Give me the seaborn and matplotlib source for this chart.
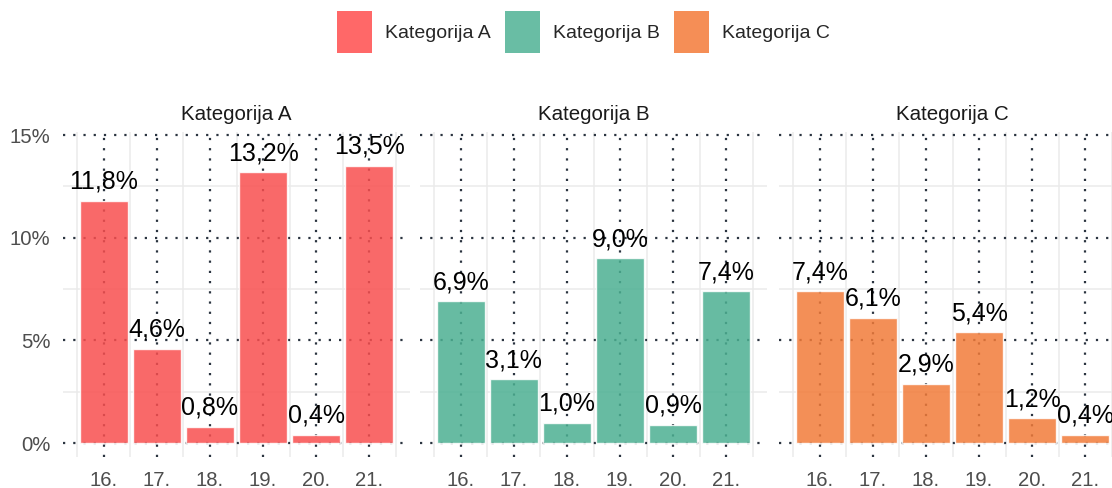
import matplotlib
matplotlib.use('Agg')
import matplotlib.pyplot as plt
from matplotlib.patches import Patch
from matplotlib.ticker import MultipleLocator, FixedLocator
import seaborn as sns
import pandas as pd

# podaci
days = ["16.", "17.", "18.", "19.", "20.", "21."]
cat_names = ["Kategorija A", "Kategorija B", "Kategorija C"]
vals_a = [11.8, 4.6, 0.8, 13.2, 0.4, 13.5]
vals_b = [6.9, 3.1, 1.0, 9.0, 0.9, 7.4]
vals_c = [7.4, 6.1, 2.9, 5.4, 1.2, 0.4]
colors = ["#F94F4F", "#4CB092", "#F27B39"]
legend_colors = ["#FF6868", "#69BDA4", "#F58E56"]

df = pd.DataFrame({
    "day": days * 3,
    "cat": [c for c in cat_names for _ in days],
    "value": vals_a + vals_b + vals_c,
})

sns.set_style("white")
plt.rcParams['font.family'] = ['Liberation Sans', 'DejaVu Sans']

W, H = 1112, 488
fig = plt.figure(figsize=(W / 100, H / 100), dpi=100)

lefts = [63, 420, 779]
pw = 347
top, bottom = 132, 457
grid_dark = "#2B3440"

for i, (cat, col) in enumerate(zip(cat_names, colors)):
    ax = fig.add_axes([lefts[i] / W, (H - bottom) / H, pw / W, (bottom - top) / H])
    sub = df[df["cat"] == cat]
    sns.barplot(data=sub, x="day", y="value", color=col, width=0.9,
                alpha=0.85, saturation=1, ax=ax, zorder=2)
    ax.set_xlim(-0.77, 5.77)
    ax.set_ylim(-0.68, 15.15)
    ax.set_axisbelow(True)
    ax.yaxis.set_major_locator(MultipleLocator(5))
    ax.yaxis.set_minor_locator(FixedLocator([2.5, 7.5, 12.5]))
    ax.xaxis.set_minor_locator(FixedLocator([-0.5, 0.5, 1.5, 2.5, 3.5, 4.5, 5.5]))
    ax.grid(which="minor", color="#EBEBEB", lw=1.1, ls="-", zorder=0)
    ax.grid(which="major", color=grid_dark, lw=1.6, ls=(0, (1, 3.6)), zorder=1)
    for s in ax.spines.values():
        s.set_visible(False)
    ax.tick_params(which="both", length=0)
    ax.set_xlabel("")
    ax.set_ylabel("")
    ax.tick_params(axis="x", labelsize=14.6, labelcolor="#4D4D4D", pad=10)
    if i == 0:
        ax.set_yticklabels([f"{int(t)}%" for t in ax.get_yticks()])
        ax.tick_params(axis="y", labelsize=14.6, labelcolor="#4D4D4D", pad=9)
    else:
        ax.tick_params(axis="y", labelleft=False)
    labels = [f"{v:.1f}%".replace(".", ",") for v in sub["value"]]
    ax.bar_label(ax.containers[0], labels=labels, padding=5, fontsize=18,
                 color="black", zorder=5, clip_on=False)
    ax.text(0.5, 1.0 + 17 / (bottom - top), cat, transform=ax.transAxes,
            ha="center", va="center", fontsize=14.8, color="#1A1A1A")

handles = [Patch(facecolor=c, edgecolor="none") for c in legend_colors]
fig.legend(handles, cat_names, loc="center", bbox_to_anchor=(583.5 / W, 1 - 32 / H),
           ncol=3, frameon=False, fontsize=14, handlelength=1.8,
           handleheight=2.9, handletextpad=0.65, columnspacing=0.75)

fig.savefig("out.png", dpi=100, facecolor="white")
